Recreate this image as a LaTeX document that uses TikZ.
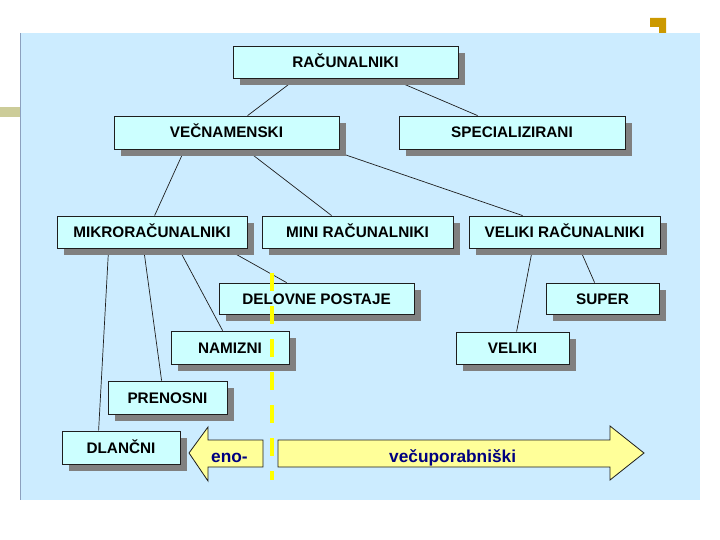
\documentclass[tikz,border=0pt]{standalone}
\usepackage{fontspec}
\setmainfont{Liberation Sans}
\usetikzlibrary{shadows,calc}
\pgfdeclarelayer{back}\pgfdeclarelayer{lines}\pgfdeclarelayer{front}
\pgfsetlayers{back,lines,main,front}
\definecolor{bgblue}{RGB}{204,236,255}
\definecolor{boxfill}{RGB}{204,255,255}
\definecolor{shadowgray}{RGB}{128,128,128}
\definecolor{arrowfill}{RGB}{255,255,153}
\definecolor{navytext}{RGB}{0,0,128}
\definecolor{olivebar}{RGB}{204,204,153}
\definecolor{goldmark}{RGB}{204,153,0}
\definecolor{edgeblue}{RGB}{140,160,190}
\definecolor{linegray}{RGB}{30,30,30}
\definecolor{dashyellow}{RGB}{255,255,0}
\tikzset{
 boxnode/.style={draw=linegray, line width=0.8pt, fill=boxfill, inner sep=0pt,
   font=\bfseries\fontsize{15.3}{18}\selectfont, text height=11pt, text depth=0pt,
   drop shadow={shadow xshift=7pt, shadow yshift=-7pt, fill=shadowgray, opacity=1}},
 link/.style={draw=linegray, line width=0.7pt},
 arrowshape/.style={draw=linegray, line width=0.8pt, fill=arrowfill},
 arrowtext/.style={text=navytext, font=\bfseries\fontsize{17.3}{21}\selectfont, inner sep=0pt, anchor=base west},
 divider/.style={draw=dashyellow, line width=4.5pt, dash pattern=on 18pt off 15pt},
}
\begin{document}
\begin{tikzpicture}[x=1pt,y=-1pt]
\useasboundingbox (0,0) rectangle (720,540);
\begin{pgfonlayer}{back}
 \fill[bgblue] (20,33) rectangle (700,500);
 \draw[edgeblue, line width=1pt] (20,33) -- (20,500);
 \fill[olivebar] (0,107) rectangle (20,117);
 \fill[goldmark] (650,18) -- (666,18) -- (666,33) -- (659,33) -- (659,27) -- (650,27) -- cycle;
\end{pgfonlayer}

\node[boxnode, minimum width=225pt, minimum height=32pt] (r) at (345.5,62) {RAČUNALNIKI};
\node[boxnode, minimum width=225pt, minimum height=33pt] (vec) at (226.5,132.5) {VEČNAMENSKI};
\node[boxnode, minimum width=226pt, minimum height=33pt] (spec) at (512,132.5) {SPECIALIZIRANI};
\node[boxnode, minimum width=190pt, minimum height=32pt] (mikro) at (152,232) {MIKRORAČUNALNIKI};
\node[boxnode, minimum width=191pt, minimum height=32pt] (mini) at (357.5,232) {MINI RAČUNALNIKI};
\node[boxnode, minimum width=191pt, minimum height=32pt] (velr) at (564.5,232) {VELIKI RAČUNALNIKI};
\node[boxnode, minimum width=195pt, minimum height=31pt] (delo) at (316.5,298.5) {DELOVNE POSTAJE};
\node[boxnode, minimum width=113pt, minimum height=31pt] (super) at (602.5,298.5) {SUPER};
\node[boxnode, minimum width=118pt, minimum height=33pt] (nam) at (230,347.5) {NAMIZNI};
\node[boxnode, minimum width=113pt, minimum height=32pt] (vel) at (512.5,348) {VELIKI};
\node[boxnode, minimum width=119pt, minimum height=33pt] (pren) at (167.5,397.5) {PRENOSNI};
\node[boxnode, minimum width=118pt, minimum height=33pt] (dlan) at (121,447.5) {DLANČNI};

\begin{pgfonlayer}{lines}
 \draw[link] ($(r.south west)+(64,0)$) -- ($(vec.north west)+(134,0)$);
 \draw[link] ($(r.south west)+(158,0)$) -- ($(spec.north west)+(79,0)$);
 \draw[link] ($(vec.south west)+(71,0)$) -- ($(mikro.north west)+(98,0)$);
 \draw[link] ($(vec.south west)+(132,0)$) -- ($(mini.north west)+(70,0)$);
 \draw[link] ($(vec.south west)+(216,0)$) -- ($(velr.north west)+(54,0)$);
 \draw[link] ($(mikro.south west)+(52,0)$) -- ($(dlan.north west)+(37,0)$);
 \draw[link] ($(mikro.south west)+(87,0)$) -- ($(pren.north west)+(54,0)$);
 \draw[link] ($(mikro.south west)+(122,0)$) -- ($(nam.north west)+(52,0)$);
 \draw[link] ($(mikro.south west)+(169,0)$) -- ($(delo.north west)+(68,0)$);
 \draw[link] ($(velr.south west)+(64,0)$) -- ($(vel.north west)+(61,0)$);
 \draw[link] ($(velr.south west)+(111,0)$) -- ($(super.north west)+(49,0)$);
\end{pgfonlayer}

\draw[arrowshape] (189,453) -- (208,427) -- (208,440) -- (263,440) -- (263,467) -- (208,467) -- (208,481) -- cycle;
\draw[arrowshape] (278,440) -- (610,440) -- (610,426) -- (644,453) -- (610,480) -- (610,467) -- (278,467) -- cycle;
\node[arrowtext] (eno) at (211,462) {eno-};
\node[arrowtext] (vecup) at (389,462) {večuporabniški};

\begin{pgfonlayer}{front}
 \coordinate (dtop) at (272,273);
 \coordinate (dbot) at (272,480);
 \draw[divider] (dtop) -- (dbot);
\end{pgfonlayer}
\end{tikzpicture}
\end{document}
